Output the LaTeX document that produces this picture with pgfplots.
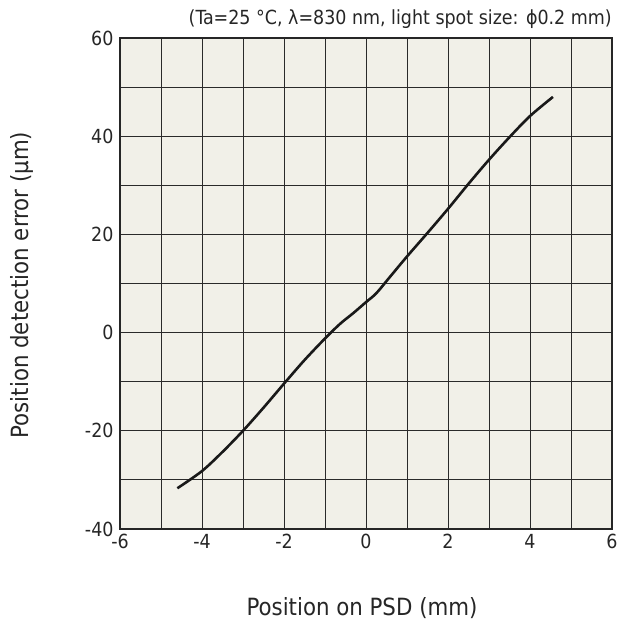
\documentclass[border=0pt]{standalone}
\usepackage{fontspec}
\setmainfont{DejaVu Sans Condensed}
\usepackage{pgfplots}
\pgfplotsset{compat=1.18}
\definecolor{paper}{HTML}{F1F0E8}
\definecolor{gridc}{HTML}{2A2A2A}

\begin{document}
\begin{tikzpicture}
\path[use as bounding box] (0,0) rectangle (617bp,624bp);
\begin{axis}[
    at={(120bp,95bp)}, anchor=south west,
    scale only axis,
    width=492bp, height=491bp,
    clip=false,
    xmin=-6, xmax=6, ymin=-40, ymax=60,
    xtick={-6,-4,...,6}, ytick={-40,-20,...,60},
    minor x tick num=1, minor y tick num=1,
    grid=both,
    major grid style={gridc, line width=0.8bp},
    minor grid style={gridc, line width=0.8bp},
    major tick length=0pt, minor tick length=0pt,
    axis line style={line width=2bp, black!85},
    axis background/.style={fill=paper},
    tick label style={font=\fontsize{19.5}{22}\selectfont, text=black!85},
    /pgf/number format/assume math mode=true,
    xticklabel style={yshift=-2bp},
    yticklabel style={xshift=-3bp},
    xlabel={Position on PSD (mm)},
    ylabel={Position detection error (μm)},
    label style={font=\fontsize{23.8}{26}\selectfont, text=black!85},
    xlabel style={at={(axis description cs:0.492,-0.161)}, anchor=center},
    ylabel style={at={(axis description cs:-0.199,0.497)}, anchor=center, rotate=0},
]
\addplot[black!90, line width=2.6bp, smooth, tension=0.5] coordinates {
    (-4.60,-31.7) (-4.00,-28.2) (-3.50,-24.3) (-3.00,-20.0) (-2.50,-15.3)
    (-2.00,-10.4) (-1.50,-5.6) (-1.00,-1.2) (-0.63,1.8) (-0.32,3.9)
    (0.00,6.2) (0.25,8.0) (0.58,11.3) (1.00,15.5) (1.50,20.3)
    (2.00,25.2) (2.50,30.3) (3.00,35.2) (3.50,39.8) (4.00,44.1) (4.56,48.0)
};
\node[anchor=east, font=\fontsize{19.5}{22}\selectfont, text=black!85, inner sep=0pt]
    at (axis description cs:1,1.039) {(Ta=25 °C, λ=830 nm, light spot size: ϕ0.2 mm)};
\end{axis}
\end{tikzpicture}
\end{document}
